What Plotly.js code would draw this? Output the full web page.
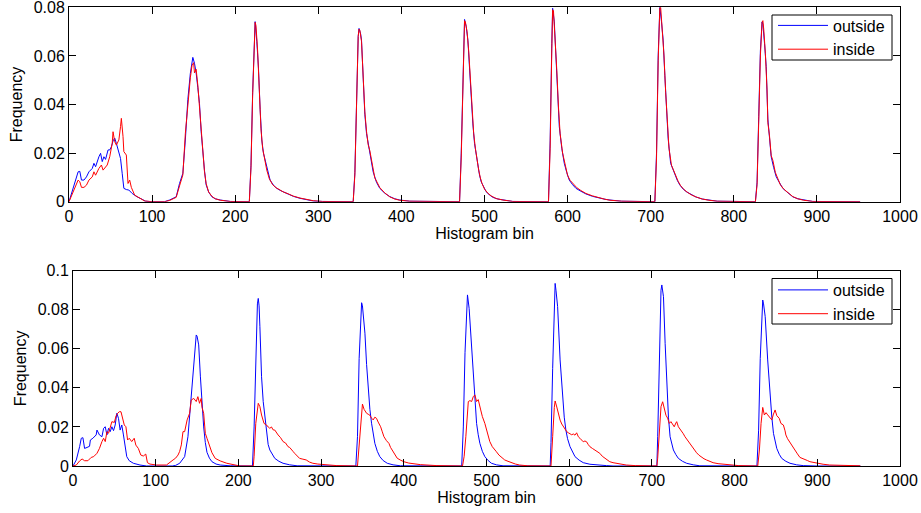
<!DOCTYPE html>
<html>
<head>
<meta charset="utf-8">
<script src="https://cdn.plot.ly/plotly-3.0.1.min.js"></script>
<style>html,body{margin:0;padding:0;background:#fff;}#chart{width:921px;height:513px;}</style>
</head>
<body>
<div id="chart"></div>
<script>
// ---------- Top subplot: outside (blue) ----------
const topOutsideBins = [0,4,8,11,13,15,18,21,24,28,30,32,36,38,40,42,44,47,49,51,53,55,57,60,62,64,66,69,72,76,82,88,92,100,115,121,129,133,137,140,143,146,149,151,153,155,157,159,161,163,165,168,172,176,182,194,217,
219,221,223,224,226,228,230,232,234,236,239,242,246,250,255,262,270,278,286,294,305,342,
344,346,348,349,351,352,354,356,358,360,362,364,366,370,374,380,386,392,398,410,470,
472,474,476,478,480,482,484,486,488,490,492,494,496,499,502,506,510,516,522,534,577,
579,581,582,584,586,588,590,593,596,599,602,606,610,616,622,630,638,645,651,665,705,
707,709,711,713,715,717,719,721,724,727,729,732,735,739,743,748,754,762,770,780,826,
828,830,832,834,835,837,839,841,843,845,848,851,855,859,864,871,877,884,895,952];
const topOutsideFreq = [0,0.0048,0.0089,0.0123,0.0125,0.0089,0.0089,0.0102,0.0123,0.0137,0.0158,0.0144,0.0185,0.0199,0.0165,0.0185,0.0174,0.0213,0.0213,0.0226,0.0250,0.0262,0.0240,0.0199,0.0178,0.0117,0.0055,0.0050,0.0048,0.0034,0.0020,0.0010,0.0002,0,0,0.0007,0.0020,0.0075,0.0117,0.0254,0.042,0.0528,0.0594,0.0570,0.0530,0.0470,0.0405,0.0290,0.0190,0.0130,0.0070,0.0040,0.0020,0.0012,0.0007,0.0001,0,
0.015,0.045,0.070,0.0741,0.066,0.055,0.038,0.0254,0.020,0.0171,0.012,0.0089,0.0068,0.0055,0.0045,0.0034,0.0022,0.0014,0.0008,0.0003,0.0001,0,
0.012,0.045,0.068,0.0713,0.069,0.0665,0.0473,0.036,0.0281,0.024,0.0206,0.016,0.0123,0.0080,0.0055,0.0035,0.0021,0.0012,0.0007,0.0002,0,
0.020,0.055,0.0750,0.072,0.0665,0.055,0.0418,0.032,0.024,0.019,0.0144,0.011,0.0082,0.006,0.0041,0.0028,0.0018,0.0011,0.0007,0.0001,0,
0.025,0.065,0.0796,0.074,0.060,0.045,0.0309,0.022,0.0158,0.012,0.0089,0.0070,0.0055,0.0043,0.0032,0.0022,0.0014,0.0010,0.0007,0.0002,0,
0.020,0.060,0.0800,0.074,0.0665,0.052,0.0377,0.026,0.0158,0.013,0.011,0.0088,0.0069,0.0052,0.0041,0.0030,0.0020,0.0011,0.0006,0.0002,0,
0.008,0.035,0.062,0.0740,0.073,0.065,0.0556,0.034,0.026,0.0185,0.014,0.0103,0.0078,0.0055,0.0040,0.0020,0.0012,0.0007,0.0001,0];

// ---------- Top subplot: inside (red) ----------
const topInsideBins = [0,4,8,11,13,15,18,21,24,28,30,32,36,39,41,44,46,49,52,53,55,57,60,62,63,65,66,69,71,73,75,79,85,91,100,115,121,129,133,137,140,143,146,148,150,151,153,155,157,159,161,163,165,168,172,176,182,194,217,
219,221,223,224,225,227,229,231,233,235,238,241,245,249,253,258,264,270,278,286,294,305,342,
344,346,348,349,350,352,354,356,358,360,362,364,366,368,370,374,380,386,392,398,410,470,
472,474,476,477,479,481,483,485,487,489,491,493,495,497,500,504,508,514,522,534,577,
579,581,582,583,585,587,589,591,594,597,600,603,607,611,616,622,630,638,645,651,665,705,
707,709,711,712,714,716,718,720,722,725,728,730,733,736,740,744,749,755,762,770,780,826,
828,830,832,834,835,836,838,840,841,843,845,847,850,853,856,860,865,871,877,884,895,952];
const topInsideFreq = [0,0.0034,0.0064,0.0089,0.0082,0.0059,0.0059,0.0068,0.0089,0.0102,0.0123,0.0109,0.0137,0.0151,0.0130,0.0144,0.0151,0.0185,0.0240,0.0288,0.0247,0.0233,0.0254,0.0309,0.0343,0.0268,0.0206,0.0192,0.0075,0.0089,0.0059,0.0027,0.0014,0.0003,0,0,0.0005,0.0018,0.0065,0.0110,0.0280,0.0400,0.0510,0.0560,0.0572,0.0530,0.0545,0.0480,0.0390,0.0280,0.0185,0.0125,0.0075,0.0040,0.0022,0.0012,0.0006,0.0001,0,
0.014,0.044,0.071,0.0738,0.0725,0.062,0.046,0.030,0.022,0.0180,0.013,0.0095,0.0070,0.0058,0.0050,0.0040,0.0032,0.0023,0.0015,0.0009,0.0004,0.0001,0,
0.011,0.044,0.068,0.0710,0.0705,0.0660,0.049,0.037,0.029,0.0235,0.021,0.017,0.0130,0.0098,0.0085,0.0058,0.0036,0.0020,0.0011,0.0006,0.0002,0,
0.018,0.052,0.0745,0.0740,0.070,0.062,0.049,0.038,0.028,0.022,0.017,0.0130,0.0098,0.0075,0.0052,0.0035,0.0024,0.0013,0.0007,0.0001,0,
0.022,0.063,0.0790,0.0785,0.068,0.054,0.039,0.028,0.020,0.0150,0.0108,0.0088,0.0072,0.0058,0.0046,0.0034,0.0024,0.0015,0.0010,0.0006,0.0002,0,
0.018,0.058,0.0798,0.080,0.071,0.060,0.045,0.031,0.022,0.0150,0.0125,0.0105,0.0084,0.0066,0.0050,0.0039,0.0028,0.0019,0.0011,0.0006,0.0002,0,
0.007,0.033,0.060,0.0738,0.0745,0.071,0.061,0.046,0.0325,0.027,0.019,0.0170,0.0120,0.0095,0.0070,0.0052,0.0038,0.0021,0.0012,0.0006,0.0001,0];

// ---------- Bottom subplot: outside (blue) ----------
const bottomOutsideBins = [0,4,8,10,12,14,17,20,21,24,28,29,32,35,37,39,41,43,45,47,49,51,53,55,57,59,61,63,65,68,73,81,89,120,124,129,135,139,141,143,146,149,150,152,154,156,158,160,162,165,168,173,178,190,217,
219,221,223,224,225,226,228,230,231,233,234,236,238,241,244,249,254,262,271,342,
344,346,348,349,350,352,353,355,357,359,361,363,365,368,371,375,380,387,396,470,
472,474,476,477,479,480,482,484,485,488,490,492,495,498,502,506,512,520,577,
578,580,582,583,584,586,589,592,594,596,598,601,604,607,612,617,625,633,645,653,706,
707,709,711,712,714,716,719,720,722,724,726,729,732,737,742,750,758,827,
829,831,833,834,835,837,840,843,845,847,849,851,854,857,862,867,875,883,900,952];
const bottomOutsideFreq = [0,0.0031,0.0099,0.0142,0.0145,0.0090,0.0095,0.0101,0.0133,0.0142,0.0159,0.0184,0.0159,0.0150,0.0193,0.0201,0.0159,0.0193,0.0176,0.0201,0.0181,0.0210,0.0270,0.0244,0.0184,0.0210,0.0159,0.0099,0.0048,0.0027,0.0014,0.0005,0,0,0.0003,0.0014,0.0048,0.0150,0.025,0.0372,0.0543,0.0671,0.0665,0.0620,0.0460,0.0320,0.0200,0.0120,0.0070,0.0040,0.0022,0.0010,0.0005,0.0001,0,
0.020,0.060,0.083,0.0858,0.082,0.0713,0.0457,0.033,0.0287,0.020,0.0159,0.011,0.0082,0.0058,0.0039,0.0024,0.0014,0.0006,0.0001,0,
0.015,0.055,0.080,0.0836,0.082,0.074,0.068,0.052,0.0389,0.029,0.0219,0.016,0.0116,0.0075,0.0048,0.0028,0.0014,0.0006,0.0001,0,
0.020,0.058,0.0850,0.0876,0.0807,0.074,0.0611,0.045,0.0389,0.0218,0.0160,0.0116,0.0075,0.0048,0.0028,0.0014,0.0006,0.0001,0,
0.012,0.050,0.090,0.0935,0.090,0.0816,0.0543,0.0338,0.025,0.0184,0.014,0.0099,0.0070,0.0048,0.0030,0.0017,0.0009,0.0005,0.0002,0,0,
0.015,0.055,0.090,0.0927,0.0867,0.0628,0.0338,0.025,0.0150,0.011,0.0082,0.0058,0.0039,0.0024,0.0014,0.0006,0.0001,0,
0.018,0.055,0.082,0.0850,0.083,0.0765,0.0543,0.0338,0.025,0.0167,0.012,0.0090,0.0060,0.0039,0.0024,0.0014,0.0006,0.0002,0,0];

// ---------- Bottom subplot: inside (red) ----------
const bottomInsideBins = [0,4,8,11,14,18,22,25,29,32,35,37,39,41,43,45,47,50,52,54,56,58,60,62,64,66,68,71,74,76,79,82,85,88,90,93,101,113,121,124,127,129,131,133,135,138,141,143,146,149,151,153,155,156,158,160,162,165,168,172,178,186,194,202,218,
219,221,223,224,226,228,231,234,236,238,240,242,244,246,248,251,254,257,260,262,264,266,268,271,274,278,282,286,290,296,303,310,319,344,
346,348,350,352,355,357,359,361,363,365,367,369,372,374,376,379,382,384,386,389,392,396,400,406,412,420,428,440,471,
473,475,476,478,480,482,484,486,488,490,493,495,498,501,504,507,510,512,515,518,522,526,530,535,540,550,578,
579,580,582,583,585,587,589,591,593,595,597,599,601,603,605,607,609,611,613,615,617,619,621,623,625,628,631,634,637,640,643,646,649,653,657,663,669,680,706,
707,708,710,711,713,715,717,719,721,723,725,727,729,730,732,734,736,738,740,742,744,747,749,752,754,757,760,763,766,770,774,780,787,795,805,828,
829,830,832,834,836,838,840,842,844,845,847,849,851,853,854,856,858,859,861,862,864,865,867,869,871,873,876,879,882,885,888,891,895,899,907,915,930,952];
const bottomInsideFreq = [0,0.0005,0.0026,0.0036,0.0027,0.0027,0.0044,0.0048,0.0065,0.0090,0.0125,0.0142,0.0125,0.0176,0.0168,0.0201,0.0227,0.0223,0.0256,0.0270,0.0278,0.0278,0.0235,0.0210,0.0201,0.0133,0.0142,0.0125,0.0142,0.0107,0.0090,0.0056,0.0051,0.0061,0.0017,0.0010,0.0005,0.0005,0.0031,0.0040,0.0056,0.0075,0.0108,0.0176,0.0176,0.0236,0.0270,0.0338,0.0346,0.0330,0.0355,0.0321,0.0346,0.0300,0.0270,0.0167,0.0142,0.0099,0.0068,0.0039,0.0026,0.0014,0.0005,0,0,
0.005,0.0218,0.030,0.0321,0.0304,0.0261,0.0218,0.0210,0.0200,0.0193,0.0200,0.0185,0.0184,0.0170,0.0159,0.0145,0.0125,0.0118,0.0099,0.0095,0.0082,0.0075,0.0065,0.0050,0.0039,0.0035,0.0031,0.0020,0.0014,0.0010,0.0007,0.0004,0.0002,0,
0.012,0.025,0.0317,0.029,0.0270,0.0265,0.0260,0.0245,0.0236,0.0250,0.0244,0.0225,0.0201,0.0175,0.0150,0.0130,0.0116,0.0095,0.0082,0.0060,0.0040,0.0030,0.0022,0.0015,0.0010,0.0007,0.0005,0.0002,0,
0.005,0.0150,0.0218,0.0330,0.0335,0.0330,0.0355,0.0364,0.0330,0.0340,0.0287,0.0253,0.0218,0.0176,0.0125,0.0099,0.0080,0.0073,0.0056,0.0045,0.0031,0.0024,0.0017,0.0010,0.0005,0.0001,0,
0.006,0.0150,0.0300,0.0333,0.0302,0.0260,0.0235,0.0215,0.0201,0.0185,0.0176,0.0170,0.0167,0.0160,0.0164,0.0158,0.0170,0.0150,0.0142,0.0130,0.0124,0.0128,0.0124,0.0110,0.0099,0.0090,0.0082,0.0072,0.0065,0.0050,0.0039,0.0030,0.0022,0.0017,0.0014,0.0010,0.0005,0.0002,0,
0.004,0.0099,0.0250,0.0304,0.0329,0.0295,0.0260,0.0245,0.0218,0.0227,0.0210,0.0201,0.0220,0.0227,0.0201,0.0190,0.0176,0.0165,0.0150,0.0138,0.0125,0.0112,0.0099,0.0082,0.0068,0.0055,0.0044,0.0037,0.0031,0.0024,0.0017,0.0012,0.0009,0.0005,0.0002,0,
0.003,0.0082,0.0218,0.0300,0.0261,0.0273,0.0262,0.0253,0.0240,0.0236,0.0266,0.0287,0.0258,0.0250,0.0244,0.0218,0.0215,0.0210,0.0180,0.0159,0.0140,0.0133,0.0120,0.0108,0.0095,0.0082,0.0062,0.0044,0.0040,0.0034,0.0028,0.0022,0.0018,0.0014,0.0009,0.0005,0.0003,0.0001];

const seriesNames = ['outside', 'inside'];
const xTickVals = [0,100,200,300,400,500,600,700,800,900,1000];
const topYTicks = [0,0.02,0.04,0.06,0.08];
const bottomYTicks = [0,0.02,0.04,0.06,0.08,0.1];

const FONT = '"Liberation Sans", Arial, Helvetica, sans-serif';
const BLUE = '#0000ff', RED = '#ff0000';
const FS = 16;

const traces = [
  {x: topOutsideBins, y: topOutsideFreq, name: seriesNames[0], type: 'scatter', mode: 'lines',
   line: {color: BLUE, width: 1}, xaxis: 'x', yaxis: 'y', legend: 'legend'},
  {x: topInsideBins, y: topInsideFreq, name: seriesNames[1], type: 'scatter', mode: 'lines',
   line: {color: RED, width: 1}, xaxis: 'x', yaxis: 'y', legend: 'legend'},
  {x: bottomOutsideBins, y: bottomOutsideFreq, name: seriesNames[0], type: 'scatter', mode: 'lines',
   line: {color: BLUE, width: 1}, xaxis: 'x2', yaxis: 'y2', legend: 'legend2'},
  {x: bottomInsideBins, y: bottomInsideFreq, name: seriesNames[1], type: 'scatter', mode: 'lines',
   line: {color: RED, width: 1}, xaxis: 'x2', yaxis: 'y2', legend: 'legend2'}
];

function axisBase() {
  return {
    showline: true, linecolor: '#000', linewidth: 1, mirror: 'ticks',
    ticks: 'inside', ticklen: 7, tickwidth: 1, tickcolor: '#000',
    showgrid: false, zeroline: false, automargin: false, ticklabeloverflow: 'allow',
    tickfont: {family: FONT, size: FS, color: '#000'}
  };
}

const W = 921, H = 513;
// legend frames (drawn as paper rectangles, the legend itself is transparent)
const legendBoxes = [
  {x0: 772, x1: 892, y0: 15, y1: 60},
  {x0: 772, x1: 892, y0: 278.5, y1: 324}
];
const shapes = legendBoxes.map(b => ({
  type: 'rect', xref: 'paper', yref: 'paper', layer: 'above',
  x0: b.x0 / W, x1: b.x1 / W, y0: 1 - b.y1 / H, y1: 1 - b.y0 / H,
  line: {color: '#000', width: 1}, fillcolor: '#fff'
}));

const legendBase = {
  xanchor: 'left', yanchor: 'top', bgcolor: 'rgba(0,0,0,0)', borderwidth: 0,
  font: {family: FONT, size: FS, color: '#000'}, tracegroupgap: 0, itemwidth: 50
};

const layout = {
  width: W, height: H,
  margin: {l: 0, r: 0, t: 0, b: 0},
  paper_bgcolor: '#fff', plot_bgcolor: '#fff',
  font: {family: FONT, size: FS, color: '#000'},
  hovermode: false,
  shapes: shapes,
  xaxis: Object.assign(axisBase(), {
    domain: [69 / W, 900 / W], range: [0, 1000], tickvals: xTickVals, anchor: 'y',
    title: {text: 'Histogram bin', font: {family: FONT, size: FS}, standoff: 3}
  }),
  yaxis: Object.assign(axisBase(), {
    domain: [1 - 201.7 / H, 1 - 7.3 / H], range: [0, 0.080001], tickvals: topYTicks, anchor: 'x',
    title: {text: 'Frequency', font: {family: FONT, size: FS}, standoff: 7}
  }),
  xaxis2: Object.assign(axisBase(), {
    domain: [73 / W, 900 / W], range: [0, 1000], tickvals: xTickVals, anchor: 'y2',
    title: {text: 'Histogram bin', font: {family: FONT, size: FS}, standoff: 3}
  }),
  yaxis2: Object.assign(axisBase(), {
    domain: [1 - 466 / H, 1 - 270.7 / H], range: [0, 0.100001], tickvals: bottomYTicks, anchor: 'x2',
    title: {text: 'Frequency', font: {family: FONT, size: FS}, standoff: 7}
  }),
  legend: Object.assign({}, legendBase, {x: 773 / W, y: 1 - 8.5 / H}),
  legend2: Object.assign({}, legendBase, {x: 773 / W, y: 1 - 273 / H}),
  showlegend: true
};

Plotly.newPlot('chart', traces, layout, {displayModeBar: false, staticPlot: true});
</script>
</body>
</html>
